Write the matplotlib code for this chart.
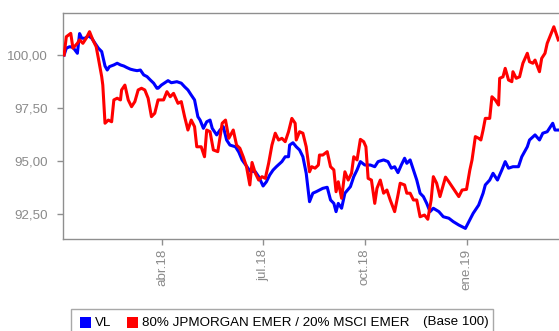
import matplotlib
matplotlib.use("Agg")
import matplotlib.pyplot as plt
import matplotlib.dates as mdates
from matplotlib.patches import Rectangle
import pandas as pd

plt.rcParams["font.family"] = ["Liberation Sans", "DejaVu Sans"]

START = pd.Timestamp("2018-01-01")

# Fund NAV (VL), base 100 — days counted from START
vl_day = [1, 3, 6, 9, 13, 15, 17, 20, 23, 26,
          29, 32, 35, 38, 40, 42, 46, 49, 52, 55,
          58, 61, 64, 67, 70, 73, 76, 79, 82, 85,
          86, 89, 95, 98, 103, 107, 110, 113, 116, 119,
          122, 124, 127, 130, 133, 135, 139, 142, 145, 148,
          151, 156, 159, 162, 166, 169, 174, 177, 181, 184,
          187, 190, 193, 198, 201, 204, 205, 208, 211, 214,
          217, 220, 223, 226, 229, 232, 235, 239, 242, 245,
          247, 249, 252, 255, 260, 263, 266, 269, 273, 278,
          282, 285, 290, 294, 297, 300, 303, 306, 309, 311,
          314, 317, 320, 323, 326, 329, 332, 335, 340, 344,
          349, 353, 358, 364, 368, 371, 376, 380, 382, 386,
          389, 393, 397, 400, 403, 407, 412, 415, 420, 422,
          427, 431, 434, 438, 441, 443, 445, 448]
vl_val = [100.00, 100.32, 100.39, 100.36, 100.08, 101.01, 100.79, 100.79, 100.90, 100.79,
          100.55, 100.32, 100.16, 99.48, 99.29, 99.45, 99.53, 99.61, 99.53, 99.48,
          99.40, 99.33, 99.29, 99.26, 99.29, 99.06, 98.98, 98.82, 98.67, 98.43,
          98.43, 98.58, 98.79, 98.69, 98.74, 98.67, 98.50, 98.35, 98.11, 97.88,
          97.09, 96.93, 96.54, 96.85, 96.93, 96.54, 96.23, 96.46, 96.62, 95.99,
          95.75, 95.67, 95.42, 95.05, 94.76, 94.53, 94.49, 94.26, 93.82, 94.02,
          94.34, 94.57, 94.73, 94.97, 95.20, 95.20, 95.75, 95.86, 95.67, 95.52,
          95.20, 94.42, 93.08, 93.48, 93.55, 93.63, 93.71, 93.76, 93.16, 93.00,
          92.61, 93.00, 92.77, 93.48, 93.79, 94.26, 94.58, 94.97, 94.81, 94.81,
          94.73, 94.97, 95.05, 94.97, 94.66, 94.73, 94.45, 94.81, 95.13, 94.89,
          95.05, 94.58, 94.10, 93.48, 93.32, 93.00, 92.61, 92.77, 92.61, 92.37,
          92.30, 92.14, 91.98, 91.82, 92.22, 92.53, 92.92, 93.48, 93.87, 94.10,
          94.42, 94.10, 94.58, 94.97, 94.66, 94.73, 94.73, 95.20, 95.67, 95.99,
          96.23, 95.99, 96.31, 96.38, 96.62, 96.78, 96.46, 96.46]

# Benchmark: 80% JPMorgan EMER / 20% MSCI EMER, base 100
bm_day = [1, 3, 7, 9, 13, 15, 18, 21, 24, 27,
          30, 32, 35, 36, 38, 41, 44, 46, 49, 52,
          53, 56, 59, 62, 65, 68, 71, 74, 77, 80,
          83, 86, 91, 94, 97, 100, 104, 107, 110, 113,
          116, 119, 121, 125, 128, 130, 133, 136, 140, 144,
          147, 150, 154, 157, 160, 163, 166, 169, 171, 174,
          177, 180, 183, 186, 189, 192, 195, 198, 201, 204,
          207, 210, 211, 214, 217, 220, 223, 225, 228, 231,
          232, 235, 239, 242, 245, 247, 249, 252, 255, 258,
          261, 263, 266, 269, 272, 274, 276, 279, 282, 284,
          287, 290, 293, 296, 300, 303, 305, 309, 311, 314,
          317, 320, 323, 327, 330, 333, 335, 338, 341, 346,
          349, 353, 358, 361, 365, 368, 370, 373, 376, 378,
          380, 382, 386, 388, 391, 394, 395, 398, 400, 403,
          406, 407, 410, 413, 416, 420, 422, 425, 427, 431,
          433, 436, 438, 441, 444, 446, 448]
bm_val = [100.00, 100.86, 101.02, 100.32, 100.55, 100.71, 100.55, 100.79, 101.10, 100.71,
          100.39, 99.84, 98.98, 98.58, 96.78, 96.93, 96.85, 97.88, 97.96, 97.88,
          98.35, 98.58, 97.88, 97.56, 97.80, 98.35, 98.43, 98.35, 97.96, 97.09,
          97.25, 97.88, 97.88, 98.27, 98.03, 98.19, 97.72, 97.80, 97.09, 96.46,
          96.93, 96.62, 95.67, 95.67, 95.20, 96.46, 96.38, 95.52, 95.44, 96.78,
          96.93, 96.07, 96.46, 95.75, 95.60, 95.20, 94.73, 93.87, 94.93, 94.42,
          94.10, 94.26, 94.18, 94.89, 95.75, 96.31, 95.99, 96.07, 95.91, 96.38,
          97.01, 96.78, 95.99, 96.38, 96.31, 95.67, 94.49, 94.73, 94.66, 94.81,
          95.28, 95.28, 95.44, 94.73, 94.58, 93.55, 94.02, 93.24, 94.49, 94.10,
          94.42, 95.20, 95.05, 96.02, 95.91, 95.67, 94.18, 94.10, 93.00, 93.71,
          94.10, 93.48, 93.63, 93.16, 92.61, 93.39, 93.95, 93.87, 93.48, 93.48,
          93.16, 93.16, 92.37, 92.45, 92.25, 93.16, 94.26, 93.95, 93.32, 94.24,
          94.02, 93.71, 93.32, 93.63, 93.66, 94.57, 95.05, 96.15, 96.07, 95.99,
          96.46, 97.01, 97.01, 98.03, 97.88, 97.64, 98.90, 98.97, 99.37, 98.82,
          98.74, 99.21, 98.90, 98.97, 99.61, 100.08, 99.68, 99.61, 99.76, 99.21,
          99.84, 100.08, 100.55, 100.94, 101.33, 101.02, 100.71]

tick_dates = ["2018-04-01", "2018-07-01", "2018-10-01", "2019-01-01"]
tick_labels = ["abr.18", "jul.18", "oct.18", "ene.19"]
y_ticks = [92.5, 95.0, 97.5, 100.0]
y_labels = ["92,50", "95,00", "97,50", "100,00"]
legend_labels = ["VL", "80% JPMORGAN EMER / 20% MSCI EMER"]
legend_note = "(Base 100)"

BLUE = "#0000FF"
RED = "#FF0000"
GREY = "#8a8a8a"
SPINE = "#8f8f8f"

W, H = 559, 331
fig = plt.figure(figsize=(W / 100, H / 100), dpi=100)

ax_l, ax_r, ax_t, ax_b = 63, 575, 13, 239
ax = fig.add_axes([ax_l / W, 1 - ax_b / H, (ax_r - ax_l) / W, (ax_b - ax_t) / H])

vl_dates = START + pd.to_timedelta(vl_day, unit="D")
bm_dates = START + pd.to_timedelta(bm_day, unit="D")

ax.plot(vl_dates, vl_val, color=BLUE, lw=2.2, solid_joinstyle="round", zorder=3)
ax.plot(bm_dates, bm_val, color=RED, lw=2.2, solid_joinstyle="round", zorder=4)

px_per_day = 1.1055
ax.set_xlim(START, START + pd.Timedelta(days=(ax_r - ax_l) / px_per_day))
ax.set_ylim(91.32, 101.98)

ax.set_xticks(pd.to_datetime(tick_dates))
ax.set_xticklabels(tick_labels, rotation=90, va="top", ha="center")
ax.set_yticks(y_ticks)
ax.set_yticklabels(y_labels)

for side in ["left", "top", "bottom"]:
    ax.spines[side].set_color(SPINE)
    ax.spines[side].set_linewidth(1.0)
ax.spines["right"].set_visible(False)

ax.tick_params(axis="both", colors=SPINE, labelcolor=GREY, labelsize=9.6,
               length=4.5, width=1.0, direction="out")
ax.tick_params(axis="y", pad=6.5)
ax.tick_params(axis="x", pad=2.5)

# Legend drawn as a framed strip below the plot
def fx(px):
    return px / W

def fy(py):
    return 1 - py / H

box = Rectangle((fx(71), fy(345)), fx(493) - fx(71), fy(308.5) - fy(345),
                transform=fig.transFigure, facecolor="white", edgecolor="#a8a8a8",
                lw=1.0, clip_on=False)
fig.patches.append(box)

cy = 322.5
sq = 11
for x0, col in [(79.5, BLUE), (126.5, RED)]:
    fig.patches.append(Rectangle((fx(x0), fy(cy + sq / 2)), fx(sq), sq / H,
                                 transform=fig.transFigure, facecolor=col,
                                 edgecolor="none"))
fig.text(fx(95), fy(cy), legend_labels[0], fontsize=9.6, va="center", ha="left", color="black")
fig.text(fx(142), fy(cy), legend_labels[1], fontsize=9.6, va="center", ha="left", color="black")
fig.text(fx(423), fy(cy), legend_note, fontsize=9.6, va="center", ha="left", color="black")

fig.savefig("out.png", dpi=100)
